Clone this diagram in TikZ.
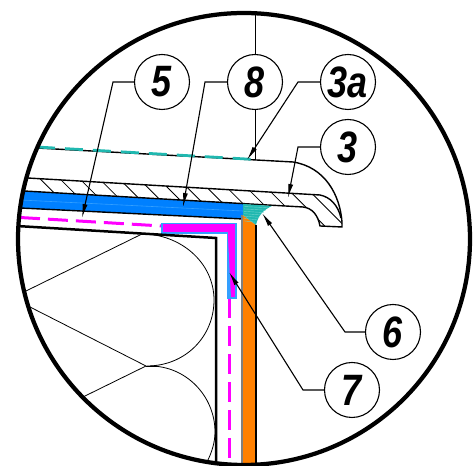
\documentclass[tikz,border=0pt]{standalone}
\usepackage{fontspec}
\setmainfont{Liberation Sans}[FakeStretch=0.82]
\usetikzlibrary{arrows.meta}
\definecolor{bandblue}{RGB}{0,128,255}
\definecolor{edgeblue}{RGB}{51,160,255}
\definecolor{strip}{RGB}{255,128,0}
\definecolor{teal2}{RGB}{32,184,176}
\definecolor{membrane}{RGB}{255,0,255}
\tikzset{
    numcirc/.style={circle, draw, line width=0.22mm, fill=white, minimum size=11mm, inner sep=0pt,
        font=\fontsize{25}{28}\selectfont\bfseries\itshape},
    leader/.style={line width=0.22mm, -{Latex[length=2.8mm,width=1mm]}},
    thinline/.style={line width=0.16mm},
    edgeline/.style={line width=0.28mm},
    heavyline/.style={line width=0.5mm},
    magdash/.style={membrane, line width=0.6mm, dash pattern=on 4mm off 1.6mm},
    tealdash/.style={teal2, line width=0.55mm, dash pattern=on 3.6mm off 2mm}
}
\begin{document}
\begin{tikzpicture}[x=0.2mm, y=-0.2mm]
    \useasboundingbox (0,0) rectangle (475,466);
    \begin{scope}
        \clip (244,239) circle [radius=226];
        % plate
        \draw[edgeline] (0,146) -- (293,162) .. controls (325,167) and (340,195) .. (342,222) -- (342,227) -- (320,226)
            .. controls (318,215) and (312,208) .. (303,207) -- (243,203.6);
        \draw[tealdash] (37,147) -- (255,159.5);
        % hatching
        \begin{scope}
            \clip (0,176) -- (320,195) .. controls (330,197) and (338,205) .. (342,222) -- (342,227) -- (320,226)
                .. controls (318,215) and (312,208) .. (303,207) -- (0,189.6) -- cycle;
            \foreach \k in {0,...,14}
                \draw[thinline] ({40+21*\k},{178.7+1.218*\k}) -- ++(50,50);
        \end{scope}
        \draw[edgeline] (0,176.4) -- (320,195) .. controls (330,197) and (338,205) .. (341,218);
        % blue band
        \fill[bandblue] (0,189.6) -- (243,203.6) -- (243,219) -- (0,207) -- cycle;
        \draw[edgeblue, line width=0.12mm] (0,199) -- (243,211);
        \draw[edgeline] (0,189.6) -- (243,203.6);
        \draw[edgeline] (0,207) -- (243,219);
        % orange strip
        \fill[strip] (243,215) -- (256,225) -- (256,480) -- (243,480) -- cycle;
        \draw[gray, edgeline] (242,215) -- (242,480);
        \draw[edgeline] (256,225) -- (256,480);
        % corner bead
        \fill[teal2] (243,204) -- (272,206) .. controls (263,210) and (258,216) .. (256,225) -- (243,215) -- cycle;
        \foreach \k in {0,...,6}
            \draw[white!35!teal2, line width=0.08mm] (244,{206.5+2.4*\k}) -- ({268-2.2*\k},{207.8+2.4*\k});
        % membrane
        \draw[magdash] (20,217.5) -- (162,226);
        \draw[magdash] (229,298) -- (229,480);
        \filldraw[fill=membrane, draw=edgeblue, line width=0.25mm]
            (162,223.5) -- (236,223.5) -- (236,298) -- (227.5,298) -- (227.5,233) -- (162,233) -- cycle;
        \fill[edgeblue] (228,238) -- (231,298) -- (228,298) -- cycle;
        % insulation
        \draw[heavyline] (0,225) -- (216,238) -- (216,480);
        \draw[thinline] (142,234) -- (26,291);
        \draw[thinline] (28,306) -- (146,366) -- (83,397);
        \draw[thinline] (146,366) -- (157,366);
        \draw[thinline] (142,234) .. controls (180,234) and (214,262) .. (214,300)
            .. controls (214,337) and (185,366) .. (147,366);
        \draw[thinline] (150,366) .. controls (186,366) and (215,396) .. (215,432)
            .. controls (215,442) and (212,452) .. (207,462);
    \end{scope}
    % labels
    \node[numcirc] (c5) at (162,82) {5};
    \node[numcirc] (c8) at (255,82) {8};
    \node[numcirc] (c3a) at (348,82) {3a};
    \node[numcirc] (c3) at (348,147) {3};
    \node[numcirc] (c6) at (393,332) {6};
    \node[numcirc] (c7) at (352,390) {7};
    \coordinate (k5) at (113,82);
    \coordinate (t5) at (82,218);
    \coordinate (k8) at (205,82);
    \coordinate (t8) at (183,207);
    \coordinate (k3a) at (298,82);
    \coordinate (t3a) at (247,160);
    \coordinate (k3) at (298,147);
    \coordinate (t3) at (288,198);
    \coordinate (k6) at (345,332);
    \coordinate (t6) at (262,213);
    \coordinate (k7) at (303,390);
    \coordinate (t7) at (229,272);
    \coordinate (top8) at (255,14);
    \coordinate (low8) at (255,160);
    \draw[thinline] (top8) -- (c8.north);
    \draw[thinline] (c8.south) -- (low8);
    \draw[leader] (c5.west) -- (k5) -- (t5);
    \draw[leader] (c8.west) -- (k8) -- (t8);
    \draw[leader] (c3a.west) -- (k3a) -- (t3a);
    \draw[leader] (c3.west) -- (k3) -- (t3);
    \draw[leader] (c6.west) -- (k6) -- (t6);
    \draw[leader] (c7.west) -- (k7) -- (t7);
    \draw[line width=0.85mm] (244,239) circle [radius=226];
\end{tikzpicture}
\end{document}
